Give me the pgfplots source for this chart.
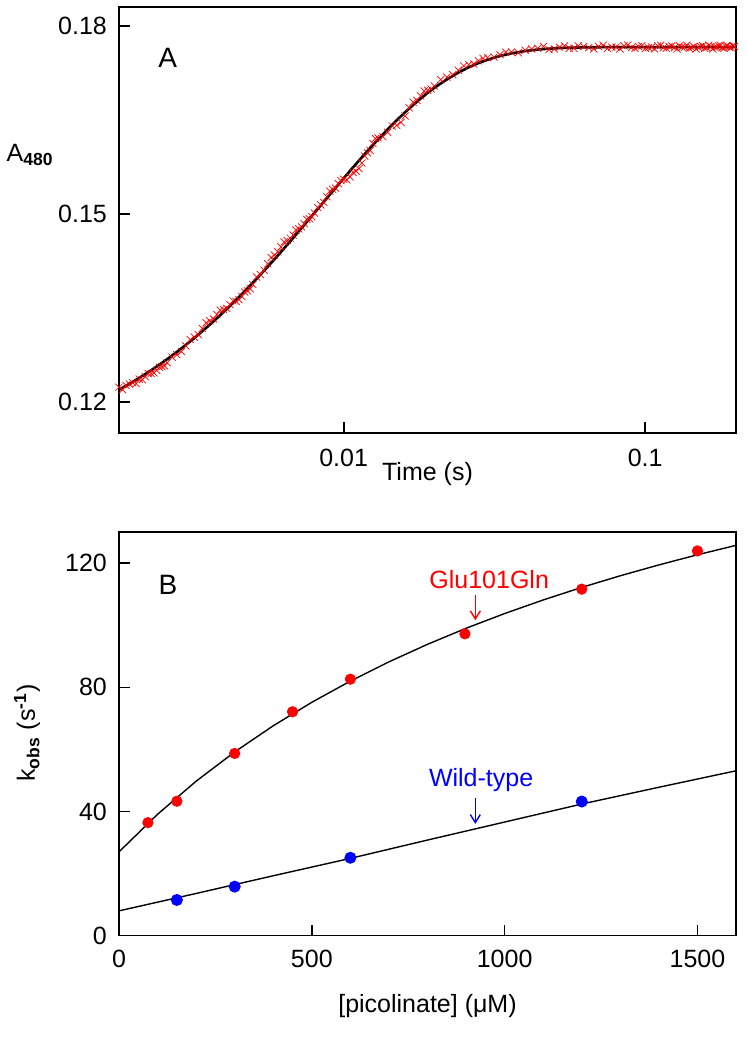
\documentclass[border=0pt]{standalone}
\usepackage{fontspec}
\setmainfont{Liberation Sans}
\usepackage{pgfplots}
\pgfplotsset{compat=1.18}
\usetikzlibrary{arrows.meta}

\pgfplotsset{
  common/.style={
    scale only axis,
    tick align=inside,
    xtick pos=bottom, ytick pos=left,
    major tick length=5.5pt,
    minor tick num=0,
    /pgf/number format/assume math mode=true,
    ticklabel style={font=\fontsize{12.5}{15}\selectfont},
    label style={font=\fontsize{12.5}{15}\selectfont},
    yticklabel style={xshift=-1.7pt},
    clip=false,
  }
}

\begin{document}
\fontsize{12.5}{15}\selectfont
\begin{tikzpicture}
\useasboundingbox (0,0) rectangle (372.5pt,525pt);

% ---------------- Panel A ----------------
\begin{axis}[common,
  at={(59.5pt,308.5pt)}, anchor=south west,
  width=308.5pt, height=213pt,
  xmode=log, xmin=0.0018, xmax=0.2,
  ymin=0.115, ymax=0.183,
  xtick={0.01,0.1}, xticklabels={0.01,0.1},
  xminorticks=false,
  ytick={0.12,0.15,0.18}, yticklabels={0.12,0.15,0.18},
  axis line style={line width=1pt},
  every tick/.style={black, line width=1pt},
  xticklabel style={yshift=-3.6pt},
]
\addplot[only marks, mark=x, mark size=2.5pt, red, mark options={line width=0.35pt}] coordinates {
(0.0018,0.1223) (0.0019,0.1226) (0.0020,0.1230) (0.0021,0.1236) (0.0022,0.1240)
(0.0023,0.1245) (0.0024,0.1250) (0.0025,0.1256) (0.0026,0.1262) (0.0028,0.1275)
(0.0030,0.1289) (0.0032,0.1303) (0.0034,0.1317) (0.0036,0.1329) (0.0038,0.1339)
(0.0040,0.1347) (0.0042,0.1355) (0.0044,0.1360) (0.0046,0.1368) (0.0048,0.1377)
(0.0050,0.1387) (0.0053,0.1403) (0.0056,0.1420) (0.0059,0.1434) (0.0062,0.1447)
(0.0065,0.1457) (0.0068,0.1466) (0.0071,0.1476) (0.0074,0.1484) (0.0077,0.1492)
(0.0080,0.1501) (0.0084,0.1514) (0.0088,0.1527) (0.0092,0.1539) (0.0096,0.1548)
(0.0100,0.1555) (0.0105,0.1559) (0.0110,0.1568) (0.0115,0.1581) (0.0120,0.1597)
(0.0125,0.1612) (0.0130,0.1621) (0.0140,0.1630) (0.0150,0.1641) (0.0160,0.1656)
(0.0170,0.1678) (0.0180,0.1688) (0.0190,0.1697) (0.0200,0.1704) (0.0220,0.1718)
(0.0240,0.1729) (0.0260,0.1738) (0.0280,0.1744) (0.0300,0.1749) (0.0330,0.1754)
(0.0360,0.1758) (0.0400,0.1761) (0.0440,0.1764) (0.0480,0.1762) (0.0520,0.1766)
(0.0560,0.1764) (0.0600,0.1768) (0.0650,0.1765) (0.0700,0.1767) (0.0750,0.1764)
(0.0800,0.1766) (0.0850,0.1768) (0.0900,0.1765) (0.0950,0.1767) (0.1000,0.1764)
(0.1050,0.1766) (0.1100,0.1768) (0.1150,0.1765) (0.1200,0.1767) (0.1250,0.1765)
(0.1300,0.1768) (0.1350,0.1766) (0.1400,0.1764) (0.1450,0.1767) (0.1500,0.1766)
(0.1550,0.1768) (0.1600,0.1765) (0.1650,0.1767) (0.1700,0.1766) (0.1750,0.1768)
(0.1800,0.1765) (0.1850,0.1767) (0.1900,0.1766) (0.1950,0.1768)
(0.00185,0.1219) (0.00195,0.1228) (0.00205,0.1229) (0.00215,0.1235) (0.00225,0.1245)
(0.00235,0.1246) (0.00245,0.1255) (0.00255,0.1257) (0.0027,0.1271) (0.0029,0.1280)
(0.0031,0.1299) (0.0033,0.1307) (0.0035,0.1326) (0.0037,0.1332) (0.0039,0.1346)
(0.0041,0.1349) (0.0043,0.1361) (0.0045,0.1363) (0.0047,0.1375) (0.0049,0.1380)
(0.00515,0.1399) (0.00545,0.1410) (0.00575,0.1430) (0.00605,0.1439) (0.00635,0.1455)
(0.00665,0.1461) (0.00695,0.1474) (0.00725,0.1479) (0.00755,0.1491) (0.00785,0.1495)
(0.0082,0.1510) (0.0086,0.1518) (0.0090,0.1536) (0.0094,0.1541) (0.0098,0.1553)
(0.01025,0.1554) (0.01075,0.1566) (0.01125,0.1572) (0.01175,0.1592) (0.01225,0.1601)
(0.01275,0.1620) (0.0135,0.1623) (0.0145,0.1640) (0.0155,0.1646) (0.0165,0.1669)
(0.0175,0.1681) (0.0185,0.1696) (0.0195,0.1699) (0.0210,0.1714) (0.0230,0.1722)
(0.0250,0.1736) (0.0270,0.1739) (0.0290,0.1748) (0.0315,0.1750) (0.0345,0.1758)
(0.0380,0.1757) (0.0420,0.1763) (0.0460,0.1767) (0.0500,0.1763) (0.0540,0.1768)
(0.0580,0.1764) (0.0625,0.1767) (0.0675,0.1763) (0.0725,0.1769) (0.0775,0.1766)
(0.0825,0.1763) (0.0875,0.1769) (0.0925,0.1764) (0.0975,0.1768) (0.1025,0.1765)
(0.1075,0.1763) (0.1125,0.1769) (0.1175,0.1764) (0.1225,0.1768) (0.1275,0.1763)
(0.1325,0.1766) (0.1375,0.1769) (0.1425,0.1765) (0.1475,0.1763) (0.1525,0.1767)
(0.1575,0.1764) (0.1625,0.1769) (0.1675,0.1763) (0.1725,0.1766) (0.1775,0.1769)
(0.1825,0.1764) (0.1875,0.1768) (0.1925,0.1765) (0.1975,0.1767)
};
\addplot[black, line width=1.3pt] coordinates {
(0.0018,0.12190) (0.0019,0.12254) (0.0020,0.12317) (0.0021,0.12379) (0.0022,0.12440)
(0.0023,0.12501) (0.0024,0.12561) (0.0025,0.12620) (0.0026,0.12679) (0.0028,0.12794)
(0.0030,0.12907) (0.0032,0.13016) (0.0034,0.13124) (0.0036,0.13229) (0.0038,0.13331)
(0.0040,0.13431) (0.0042,0.13529) (0.0044,0.13625) (0.0046,0.13718) (0.0048,0.13809)
(0.0050,0.13898) (0.0053,0.14028) (0.0056,0.14153) (0.0059,0.14274) (0.0062,0.14391)
(0.0065,0.14504) (0.0068,0.14613) (0.0071,0.14718) (0.0074,0.14819) (0.0077,0.14917)
(0.0080,0.15012) (0.0084,0.15133) (0.0088,0.15248) (0.0092,0.15359) (0.0096,0.15464)
(0.0100,0.15564) (0.0105,0.15683) (0.0110,0.15796) (0.0115,0.15902) (0.0120,0.16002)
(0.0125,0.16096) (0.0130,0.16185) (0.0140,0.16348) (0.0150,0.16493) (0.0160,0.16621)
(0.0170,0.16736) (0.0180,0.16838) (0.0190,0.16929) (0.0200,0.17010) (0.0220,0.17145)
(0.0240,0.17253) (0.0260,0.17338) (0.0280,0.17405) (0.0300,0.17458) (0.0330,0.17518)
(0.0360,0.17560) (0.0400,0.17597) (0.0440,0.17621) (0.0480,0.17635) (0.0520,0.17645)
(0.0560,0.17650) (0.0600,0.17654) (0.0700,0.17658) (0.0800,0.17660) (0.2000,0.17660)
};
\node at (axis description cs:0.5,0) [yshift=-20.5pt] {Time (s)};
\node at (axis description cs:-0.144,0.653) {A\textsubscript{\textbf{480}}};
\node at (axis cs:0.00261,0.1749) {\fontsize{14}{16}\selectfont A};
\end{axis}

% ---------------- Panel B ----------------
\begin{axis}[common,
  at={(59.5pt,57.15pt)}, anchor=south west,
  width=308.5pt, height=201.85pt,
  xmin=0, xmax=1600, ymin=0, ymax=130,
  xtick={0,500,1000,1500}, xticklabels={0,500,1000,1500},
  ytick={0,40,80,120}, yticklabels={0,40,80,120},
  axis line style={line width=0.7pt},
  every tick/.style={black, line width=0.7pt},
  xticklabel style={yshift=-3pt},
]
\addplot[black, line width=0.7pt] coordinates {
(0,27.00) (100,39.10) (200,49.75) (300,59.18) (400,67.60) (500,75.16) (600,81.99)
(700,88.18) (800,93.83) (900,99.00) (1000,103.74) (1100,108.11) (1200,112.16)
(1300,115.91) (1400,119.40) (1500,122.66) (1600,125.70)
};
\addplot[black, line width=0.7pt] coordinates {
(0,8.0) (200,13.6) (400,19.3) (600,24.9) (800,30.8) (1000,36.6) (1200,42.4) (1400,47.8) (1600,53.1)
};
\addplot[only marks, mark=*, mark size=2.6pt, red, mark options={draw=red, fill=red}] coordinates {
(75,36.4) (150,43.3) (300,58.7) (450,72.1) (600,82.6) (897,97.2) (1200,111.6) (1500,123.9)
};
\addplot[only marks, mark=*, mark size=2.8pt, blue, mark options={draw=blue, fill=blue}] coordinates {
(150,11.5) (300,15.8) (600,25.1) (1200,43.2)
};
\node[red] at (axis cs:960,114.8) {Glu101Gln};
\draw[red, line width=0.7pt, -{Straight Barb[length=4pt,width=5pt]}] (axis cs:924,109.6) -- (axis cs:924,101.6);
\node[blue] at (axis cs:939,50.1) {Wild-type};
\draw[blue, line width=0.7pt, -{Straight Barb[length=4pt,width=5pt]}] (axis cs:924,44.3) -- (axis cs:924,36.0);
\node at (axis cs:127,112.9) {\fontsize{14}{16}\selectfont B};
\node at (axis description cs:0.5,0) [yshift=-35pt] {[picolinate] (μM)};
\node[rotate=90] at (axis description cs:-0.149,0.502) {k\textsubscript{\textbf{obs}} (s\textsuperscript{\textbf{-1}})};
\end{axis}
\end{tikzpicture}
\end{document}
